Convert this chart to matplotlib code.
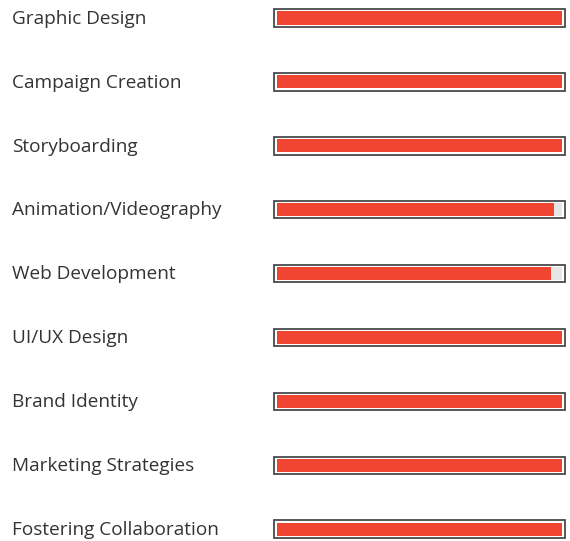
import matplotlib.pyplot as plt
import matplotlib.transforms as mtransforms

skills = ['Graphic Design', 'Campaign Creation', 'Storyboarding',
          'Animation/Videography', 'Web Development', 'UI/UX Design',
          'Brand Identity', 'Marketing Strategies', 'Fostering Collaboration']
levels = [100, 100, 100, 97, 96, 100, 100, 100, 100]

plt.rcParams['font.family'] = ['Open Sans', 'DejaVu Sans']

fig = plt.figure(figsize=(5.70, 5.41), dpi=100)
# track spans x 276.7..562.3 px, rows centred at 18 + 63.9*i px
ax = fig.add_axes([276.7 / 570, 0, 285.6 / 570, 1])
ax.set_xlim(0, 100)
ax.set_ylim((541 - 18) / 63.9, -18 / 63.9)
ax.axis('off')

rows = range(len(skills))
# outer frame
ax.barh(rows, 101.9, left=-0.95, height=0.275, color='white',
        edgecolor='#4a4a4a', linewidth=1.3, clip_on=False)
# grey track
ax.barh(rows, 100, height=0.205, color='#e6e6e6', clip_on=False)
# filled part
ax.barh(rows, levels, height=0.205, color='#f04530', clip_on=False)

trans = mtransforms.blended_transform_factory(fig.transFigure, ax.transData)
for i, s in enumerate(skills):
    ax.text(12 / 570, i + 0.09, s, transform=trans, ha='left', va='baseline',
            fontsize=13.7, color='#333333')

fig.savefig('out.png', dpi=100)
